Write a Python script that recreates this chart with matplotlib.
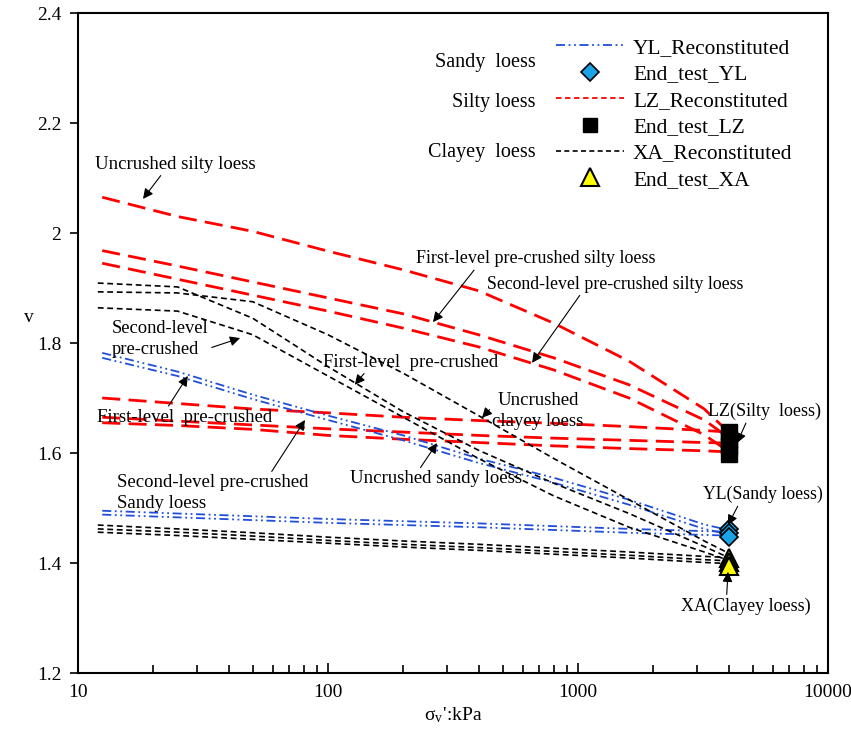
import matplotlib
matplotlib.use('Agg')
import matplotlib.pyplot as plt
from matplotlib.lines import Line2D
from matplotlib.ticker import FixedLocator, FixedFormatter, NullFormatter, LogLocator

plt.rcParams['font.family'] = ['Liberation Serif', 'DejaVu Serif']
plt.rcParams['mathtext.fontset'] = 'stix'

# vertical stress steps (kPa)
loads = [12.5, 25, 50, 100, 200, 400, 800, 1600, 3200, 4000]

# LZ (silty loess) - red
lz_uncrushed = [2.065, 2.03, 2.003, 1.967, 1.933, 1.895, 1.836, 1.767, 1.68, 1.638]
lz_first = [1.968, 1.94, 1.911, 1.882, 1.853, 1.815, 1.773, 1.724, 1.66, 1.628]
lz_second = [1.945, 1.916, 1.887, 1.858, 1.827, 1.793, 1.751, 1.70, 1.633, 1.603]
lz_rec_a = [1.70, 1.69, 1.68, 1.673, 1.665, 1.659, 1.654, 1.648, 1.641, 1.638]
lz_rec_b = [1.665, 1.658, 1.651, 1.644, 1.638, 1.632, 1.627, 1.623, 1.619, 1.618]
lz_rec_c = [1.655, 1.65, 1.643, 1.632, 1.625, 1.619, 1.613, 1.608, 1.604, 1.602]

# YL (sandy loess) - blue
yl_first = [1.782, 1.748, 1.706, 1.668, 1.632, 1.59, 1.555, 1.515, 1.47, 1.46]
yl_second = [1.773, 1.740, 1.698, 1.660, 1.623, 1.582, 1.546, 1.506, 1.462, 1.452]
yl_rec_a = [1.495, 1.49, 1.485, 1.48, 1.476, 1.472, 1.467, 1.462, 1.458, 1.457]
yl_rec_b = [1.488, 1.483, 1.478, 1.473, 1.469, 1.465, 1.46, 1.455, 1.451, 1.45]

# XA (clayey loess) - black
xa_loads = [12, 25, 50, 100, 200, 400, 800, 1600, 3200, 4000]
xa_second = [1.909, 1.902, 1.845, 1.757, 1.675, 1.605, 1.545, 1.49, 1.43, 1.41]
xa_uncrushed = [1.893, 1.891, 1.875, 1.815, 1.745, 1.668, 1.59, 1.515, 1.44, 1.418]
xa_first = [1.864, 1.858, 1.815, 1.74, 1.665, 1.59, 1.522, 1.465, 1.42, 1.405]
xa_rec_a = [1.469, 1.462, 1.455, 1.447, 1.44, 1.434, 1.427, 1.42, 1.412, 1.41]
xa_rec_b = [1.462, 1.456, 1.449, 1.441, 1.434, 1.428, 1.421, 1.414, 1.406, 1.404]
xa_rec_c = [1.456, 1.450, 1.443, 1.436, 1.429, 1.423, 1.416, 1.409, 1.401, 1.399]

# end of test points
end_load = 4000
lz_end = [1.638, 1.625, 1.612, 1.599]
yl_end = [1.462, 1.455, 1.447]
xa_end = [1.41, 1.402, 1.395]

RED = '#ff0000'
BLUE = '#1f4fd8'
CYAN = '#1ba3e8'
YELLOW = '#ffff00'

red_style = dict(color=RED, lw=2.0, dashes=(6.5, 3))
blue_style = dict(color=BLUE, lw=1.3, dashes=(5, 2, 1, 2, 1, 2))
black_style = dict(color='black', lw=1.2, dashes=(3.5, 2.2))

fig = plt.figure(figsize=(8.51, 7.31), dpi=100)
ax = fig.add_axes([78 / 851, 58 / 731, 750 / 851, 660 / 731])

for ys in [lz_uncrushed, lz_first, lz_second, lz_rec_a, lz_rec_b, lz_rec_c]:
    ax.plot(loads, ys, **red_style)
for ys in [yl_first, yl_second, yl_rec_a, yl_rec_b]:
    ax.plot(loads, ys, **blue_style)
for ys in [xa_second, xa_uncrushed, xa_first, xa_rec_a, xa_rec_b, xa_rec_c]:
    ax.plot(xa_loads, ys, **black_style)

ax.plot([end_load] * len(lz_end), lz_end, 's', ms=11, mfc='black', mec='black', ls='none')
ax.plot([end_load] * len(yl_end), yl_end, 'D', ms=9.5, mfc=CYAN, mec='black', mew=1.2, ls='none')
ax.plot([end_load] * len(xa_end), xa_end, '^', ms=13.5, mfc=YELLOW, mec='black', mew=1.5, ls='none')

ax.set_xscale('log')
ax.set_xlim(10, 10000)
ax.set_ylim(1.2, 2.4)
ax.xaxis.set_major_locator(FixedLocator([10, 100, 1000, 10000]))
ax.xaxis.set_major_formatter(FixedFormatter(['10', '100', '1000', '10000']))
ax.xaxis.set_minor_locator(LogLocator(base=10, subs=range(2, 10)))
ax.xaxis.set_minor_formatter(NullFormatter())
ax.set_yticks([1.2, 1.4, 1.6, 1.8, 2.0, 2.2, 2.4])
ax.set_yticklabels(['1.2', '1.4', '1.6', '1.8', '2', '2.2', '2.4'])
ax.tick_params(axis='x', which='major', direction='in', length=7, width=1.2, labelsize=14, pad=8)
ax.tick_params(axis='x', which='minor', direction='in', length=6, width=1.2)
ax.tick_params(axis='y', direction='out', length=6, width=1.2, labelsize=14, pad=6)
for sp in ax.spines.values():
    sp.set_linewidth(1.5)

ax.set_xlabel("σ$_\\mathregular{v}$':kPa", fontsize=14, labelpad=3)
ax.set_ylabel('v', fontsize=14, rotation=0, va='center', ha='center')
ax.yaxis.set_label_coords(-0.066, 0.538)

arrow = dict(arrowstyle='-|>', color='black', lw=0.8, mutation_scale=15, shrinkA=0, shrinkB=0)

ax.annotate('Uncrushed silty loess', xy=(18.2, 2.062), xytext=(24.6, 2.125),
            ha='center', va='center', fontsize=13.5, arrowprops=dict(arrow, relpos=(0.42, 0)))
ax.annotate('First-level pre-crushed silty loess', xy=(263, 1.838), xytext=(680, 1.953),
            ha='center', va='center', fontsize=13, arrowprops=dict(arrow, relpos=(0.25, 0)))
ax.annotate('Second-level pre-crushed silty loess', xy=(655, 1.764), xytext=(1406, 1.907),
            ha='center', va='center', fontsize=12.8, arrowprops=dict(arrow, relpos=(0.37, 0)))
ax.annotate('Second-level\npre-crushed', xy=(44.5, 1.809), xytext=(13.7, 1.808),
            ha='left', va='center', fontsize=13.3, linespacing=1.3,
            arrowprops=dict(arrow, relpos=(0.95, 0.2)))
ax.annotate('First-level  pre-crushed', xy=(128, 1.724), xytext=(213, 1.765),
            ha='center', va='center', fontsize=13.5, arrowprops=dict(arrow, relpos=(0.25, 0)))
ax.annotate('Uncrushed\nclayey loess', xy=(413, 1.664), xytext=(692, 1.676),
            ha='center', va='center', fontsize=13.5, linespacing=1.3,
            arrowprops=dict(arrow, relpos=(0.05, 0.75)))
ax.annotate('First-level  pre-crushed', xy=(27.5, 1.74), xytext=(26.6, 1.665),
            ha='center', va='center', fontsize=13.5, arrowprops=dict(arrow, relpos=(0.4, 1)))
ax.annotate('Second-level pre-crushed\nSandy loess', xy=(80.9, 1.66), xytext=(14.3, 1.527),
            ha='left', va='center', fontsize=13.5, linespacing=1.3,
            arrowprops=dict(arrow, relpos=(0.8, 1)))
ax.annotate('Uncrushed sandy loess', xy=(273, 1.618), xytext=(270, 1.553),
            ha='center', va='center', fontsize=13.5, arrowprops=dict(arrow, relpos=(0.4, 1)))
ax.annotate('LZ(Silty  loess)', xy=(4325, 1.618), xytext=(5550, 1.675),
            ha='center', va='center', fontsize=13, arrowprops=dict(arrow, relpos=(0.35, 0)))
ax.annotate('YL(Sandy loess)', xy=(3981, 1.469), xytext=(5500, 1.524),
            ha='center', va='center', fontsize=12.8, arrowprops=dict(arrow, relpos=(0.3, 0)))
ax.annotate('XA(Clayey loess)', xy=(3981, 1.384), xytext=(4700, 1.322),
            ha='center', va='center', fontsize=13, arrowprops=dict(arrow, relpos=(0.35, 1)))

# legend
handles = [
    Line2D([], [], color=BLUE, lw=1.3, dashes=(5, 2, 1, 2, 1, 2)),
    Line2D([], [], marker='D', ms=9.5, mfc=CYAN, mec='black', mew=1.2, ls='none'),
    Line2D([], [], color=RED, lw=1.3, dashes=(3, 2)),
    Line2D([], [], marker='s', ms=10, mfc='black', mec='black', ls='none'),
    Line2D([], [], color='black', lw=1.2, dashes=(3, 2)),
    Line2D([], [], marker='^', ms=13, mfc=YELLOW, mec='black', mew=1.5, ls='none'),
]
labels = ['YL_Reconstituted', 'End_test_YL', 'LZ_Reconstituted',
          'End_test_LZ', 'XA_Reconstituted', 'End_test_XA']
ax.legend(handles, labels, loc='upper left', bbox_to_anchor=((556 - 78) / 750, (673 - 38) / 660),
          frameon=False, fontsize=15.4, handlelength=3.2, handletextpad=0.4,
          labelspacing=0.3, borderpad=0, borderaxespad=0)

for name, yy in [('Sandy  loess', 63), ('Silty loess', 103), ('Clayey  loess', 153)]:
    ax.text((536 - 78) / 750, (673 - yy) / 660, name, transform=ax.transAxes,
            ha='right', va='center', fontsize=14.5)

fig.savefig('out.png', dpi=100)
